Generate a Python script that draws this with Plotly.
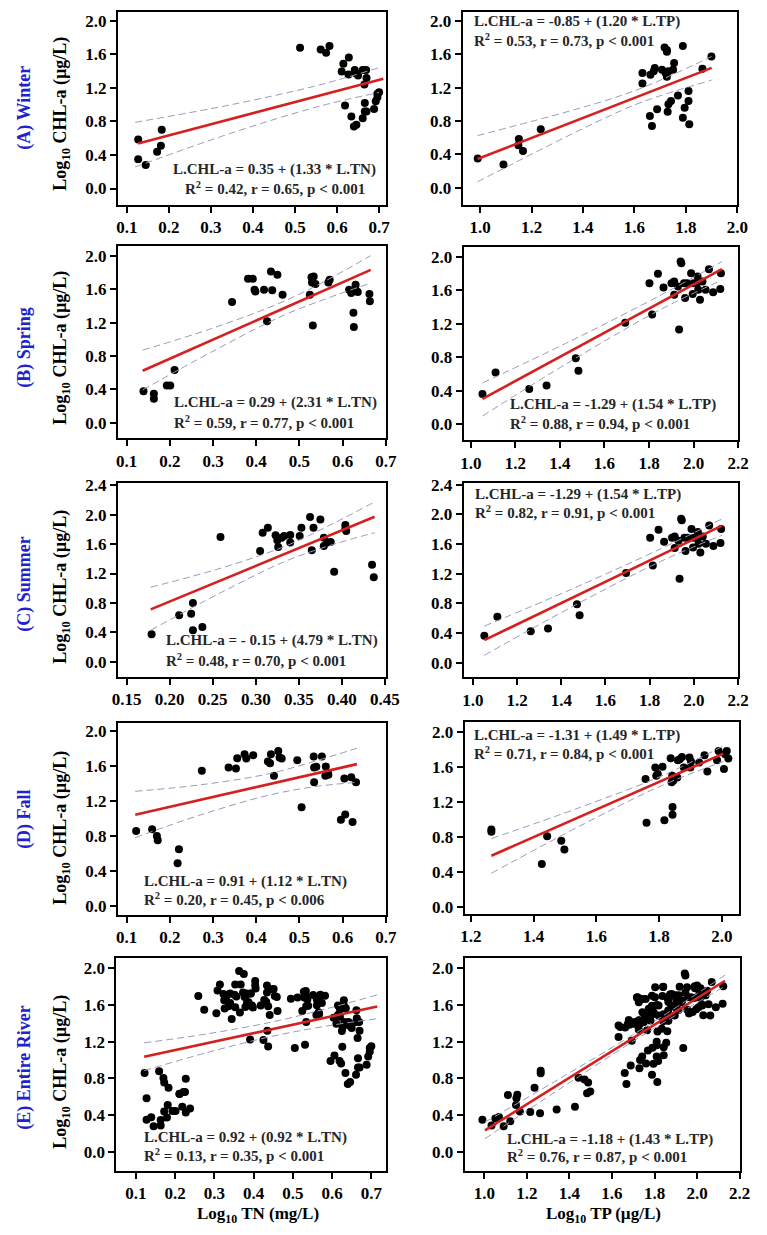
import plotly.graph_objects as go

W, H = 767, 1235

# ---------------- data ----------------
# (A) Winter
winter_tn_x = [0.127, 0.127, 0.145, 0.172, 0.181, 0.183, 0.512, 0.561, 0.574, 0.582, 0.611, 0.615, 0.628, 0.619,
               0.627, 0.634, 0.640, 0.646, 0.642, 0.644, 0.650, 0.661, 0.669, 0.661, 0.666, 0.666, 0.665, 0.670,
               0.670, 0.688, 0.692, 0.696, 0.700, 0.696]
winter_tn_y = [0.585, 0.35, 0.28, 0.44, 0.51, 0.70, 1.68, 1.66, 1.62, 1.70, 1.395, 1.49, 1.565, 0.99,
               1.36, 0.86, 0.74, 0.76, 1.415, 1.375, 1.35, 1.415, 1.415, 0.84, 0.92, 1.02, 1.24, 1.32,
               0.92, 0.95, 1.04, 1.09, 1.15, 1.13]
winter_tp_x = [0.991, 1.091, 1.151, 1.149, 1.167, 1.236, 1.631, 1.631, 1.66, 1.668, 1.662, 1.675, 1.679, 1.688,
               1.707, 1.717, 1.726, 1.726, 1.721, 1.726, 1.732, 1.729, 1.732, 1.742, 1.75, 1.754, 1.769, 1.788,
               1.788, 1.795, 1.81, 1.81, 1.813, 1.864, 1.899]
winter_tp_y = [0.35, 0.28, 0.585, 0.51, 0.44, 0.70, 1.375, 1.25, 0.86, 0.74, 1.355, 1.395, 1.435, 0.94,
               1.415, 1.68, 1.65, 1.63, 1.375, 1.33, 1.395, 0.91, 1.0, 1.04, 1.415, 1.495, 1.105, 1.70,
               0.84, 0.96, 1.16, 1.04, 0.76, 1.427, 1.573]

# (B) Spring
spring_tn_x = [0.139, 0.163, 0.163, 0.193, 0.201, 0.211, 0.344, 0.381, 0.392, 0.396, 0.398, 0.418, 0.425, 0.434,
               0.437, 0.449, 0.461, 0.524, 0.528, 0.529, 0.531, 0.533, 0.537, 0.567, 0.570, 0.615, 0.620, 0.625,
               0.626, 0.630, 0.630, 0.635, 0.662, 0.663]
spring_tn_y = [0.379, 0.348, 0.289, 0.447, 0.447, 0.632, 1.447, 1.723, 1.723, 1.593, 1.573, 1.593, 1.217, 1.81,
               1.585, 1.771, 1.534, 1.534, 1.743, 1.68, 1.166, 1.751, 1.66, 1.68, 1.711, 1.593, 1.553, 1.316,
               1.146, 1.652, 1.593, 1.565, 1.542, 1.455]
spring_tp_x = [1.052, 1.111, 1.262, 1.340, 1.471, 1.483, 1.693, 1.802, 1.814, 1.840, 1.865, 1.901, 1.913, 1.913,
               1.930, 1.935, 1.942, 1.945, 1.957, 1.962, 1.971, 1.989, 1.996, 2.0, 2.015, 2.018, 2.021, 2.029,
               2.040, 2.054, 2.069, 2.088, 2.120, 2.123]
spring_tp_y = [0.363, 0.619, 0.422, 0.462, 0.789, 0.639, 1.211, 1.684, 1.31, 1.795, 1.633, 1.684, 1.704, 1.546,
               1.645, 1.132, 1.941, 1.921, 1.684, 1.507, 1.684, 1.803, 1.554, 1.684, 1.684, 1.763, 1.606, 1.487,
               1.704, 1.606, 1.85, 1.574, 1.613, 1.803]

# (C) Summer (the TP panel of the reference repeats the spring points)
summer_tn_x = [0.179, 0.211, 0.225, 0.227, 0.227, 0.238, 0.259, 0.305, 0.308, 0.314, 0.323, 0.325, 0.326, 0.330,
               0.333, 0.340, 0.340, 0.353, 0.351, 0.363, 0.365, 0.367, 0.375, 0.379, 0.379, 0.383, 0.391, 0.387,
               0.404, 0.405, 0.404, 0.435, 0.437]
summer_tn_y = [0.374, 0.630, 0.653, 0.797, 0.428, 0.473, 1.697, 1.508, 1.756, 1.823, 1.720, 1.652, 1.562, 1.688,
               1.711, 1.724, 1.621, 1.823, 1.711, 1.968, 1.517, 1.823, 1.936, 1.688, 1.576, 1.621, 1.225, 1.630,
               1.859, 1.778, 1.814, 1.319, 1.148]
summer_tp_x = list(spring_tp_x)
summer_tp_y = list(spring_tp_y)
# extra summer TP points only visible in the Entire River panel
summer_tp_extra_x = [1.034, 1.069, 1.122, 1.155, 1.216, 1.79, 1.81, 1.855, 1.86, 1.72, 1.758, 1.803, 1.841, 1.88,
                     1.918, 1.953, 2.0, 1.864, 1.895, 1.925, 1.979, 2.024, 2.062, 2.047, 1.697, 1.727, 1.758,
                     1.788, 1.819, 1.639, 1.682, 1.727, 1.743, 1.724, 1.773, 1.781, 1.819, 1.865, 1.834,
                     1.765, 1.743]
summer_tp_extra_y = [0.288, 0.381, 0.335, 0.622, 0.435, 1.133, 1.198, 1.187, 1.313, 1.683, 1.665, 1.791, 1.799,
                     1.719, 1.799, 1.791, 1.81, 1.54, 1.486, 1.63, 1.522, 1.594, 1.486, 1.755, 1.396, 1.432,
                     1.486, 1.54, 1.594, 1.36, 1.385, 1.43, 1.665, 1.673, 1.557, 1.431, 1.485, 1.431, 1.342,
                     1.323, 1.52]

# (D) Fall
fall_tn_x = [0.122, 0.159, 0.170, 0.172, 0.218, 0.221, 0.274, 0.336, 0.353, 0.356, 0.373, 0.377, 0.393, 0.427,
             0.432, 0.434, 0.441, 0.451, 0.454, 0.459, 0.495, 0.505, 0.533, 0.534, 0.534, 0.539, 0.552, 0.560,
             0.561, 0.566, 0.567, 0.596, 0.606, 0.604, 0.620, 0.623, 0.631]
fall_tn_y = [0.860, 0.879, 0.804, 0.755, 0.491, 0.653, 1.547, 1.585, 1.574, 1.691, 1.736, 1.687, 1.725, 1.653,
             1.634, 1.736, 1.491, 1.774, 1.698, 1.687, 1.668, 1.132, 1.709, 1.585, 1.415, 1.592, 1.709, 1.491,
             1.596, 1.521, 1.502, 0.989, 1.049, 1.460, 1.472, 0.962, 1.415]
fall_tp_x = [1.265, 1.265, 1.426, 1.443, 1.488, 1.498, 1.757, 1.760, 1.788, 1.791, 1.796, 1.811, 1.817, 1.837,
             1.840, 1.842, 1.843, 1.843, 1.845, 1.858, 1.860, 1.866, 1.873, 1.879, 1.897, 1.902, 1.900, 1.928,
             1.945, 1.954, 1.985, 1.990, 2.007, 2.011, 2.016, 2.021]
fall_tp_y = [0.883, 0.857, 0.491, 0.808, 0.755, 0.657, 1.460, 0.962, 1.592, 1.498, 1.517, 1.600, 0.989, 1.698,
             1.423, 1.498, 1.140, 1.053, 1.442, 1.479, 1.675, 1.687, 1.713, 1.592, 1.706, 1.660, 1.592, 1.649,
             1.732, 1.547, 1.675, 1.781, 1.574, 1.743, 1.781, 1.694]

# (E) Entire river = all seasons together
entire_tn_x = winter_tn_x + spring_tn_x + summer_tn_x + fall_tn_x
entire_tn_y = winter_tn_y + spring_tn_y + summer_tn_y + fall_tn_y
entire_tp_x = winter_tp_x + spring_tp_x + fall_tp_x + summer_tp_extra_x
entire_tp_y = winter_tp_y + spring_tp_y + fall_tp_y + summer_tp_extra_y

# regression lines and 95% confidence bands
winter_tn_fit_x, winter_tn_fit_y = [0.127, 0.710], [0.538, 1.310]
winter_tn_band_x = [0.12, 0.35, 0.559, 0.70]
winter_tn_band_up = [0.79, 1.002, 1.237, 1.443]
winter_tn_band_lo = [0.257, 0.664, 0.983, 1.146]

winter_tp_fit_x, winter_tp_fit_y = [0.99, 1.90], [0.345, 1.437]
winter_tp_band_x = [0.99, 1.45, 1.63, 1.90]
winter_tp_band_up = [0.625, 1.01, 1.198, 1.573]
winter_tp_band_lo = [0.071, 0.784, 1.028, 1.29]

spring_tn_fit_x, spring_tn_fit_y = [0.137, 0.665], [0.624, 1.83]
spring_tn_band_x = [0.137, 0.30, 0.46, 0.56, 0.665]
spring_tn_band_up = [0.87, 1.134, 1.445, 1.698, 2.0]
spring_tn_band_lo = [0.395, 0.858, 1.279, 1.482, 1.672]

spring_tp_fit_x, spring_tp_fit_y = [1.052, 2.127], [0.304, 1.85]
spring_tp_band_x = [1.052, 1.45, 1.85, 2.127]
spring_tp_band_up = [0.493, 0.996, 1.537, 1.94]
spring_tp_band_lo = [0.099, 0.756, 1.367, 1.72]

summer_tn_fit_x, summer_tn_fit_y = [0.178, 0.438], [0.711, 1.972]
summer_tn_band_x = [0.178, 0.26, 0.334, 0.39, 0.438]
summer_tn_band_up = [1.013, 1.275, 1.571, 1.882, 2.175]
summer_tn_band_lo = [0.428, 0.943, 1.365, 1.596, 1.756]

fall_tn_fit_x, fall_tn_fit_y = [0.12, 0.633], [1.045, 1.623]
fall_tn_band_x = [0.12, 0.27, 0.431, 0.54, 0.633]
fall_tn_band_up = [1.313, 1.386, 1.515, 1.663, 1.804]
fall_tn_band_lo = [0.785, 1.042, 1.271, 1.369, 1.415]

fall_tp_fit_x, fall_tp_fit_y = [1.265, 2.005], [0.585, 1.75]
fall_tp_band_x = [1.265, 1.55, 1.806, 2.005]
fall_tp_band_up = [0.78, 1.139, 1.492, 1.838]
fall_tp_band_lo = [0.385, 0.929, 1.382, 1.66]

entire_tn_fit_x, entire_tn_fit_y = [0.121, 0.715], [1.036, 1.583]
entire_tn_band_x = [0.121, 0.28, 0.45, 0.60, 0.715]
entire_tn_band_up = [1.187, 1.284, 1.417, 1.574, 1.709]
entire_tn_band_lo = [0.885, 1.08, 1.261, 1.38, 1.45]

entire_tp_fit_x, entire_tp_fit_y = [1.003, 2.131], [0.234, 1.863]
entire_tp_band_x = [1.003, 1.35, 1.75, 2.131]
entire_tp_band_up = [0.324, 0.792, 1.349, 1.923]
entire_tp_band_lo = [0.144, 0.678, 1.277, 1.803]

# equation texts
eq_winter_tn = ["L.CHL-a = 0.35 + (1.33 * L.TN)", "R<sup>2</sup> = 0.42, r = 0.65, p &lt; 0.001"]
eq_winter_tp = ["L.CHL-a = -0.85 + (1.20 * L.TP)", "R<sup>2</sup> = 0.53, r = 0.73, p &lt; 0.001"]
eq_spring_tn = ["L.CHL-a = 0.29 + (2.31 * L.TN)", "R<sup>2</sup> = 0.59, r = 0.77, p &lt; 0.001"]
eq_spring_tp = ["L.CHL-a = -1.29 + (1.54 * L.TP)", "R<sup>2</sup> = 0.88, r = 0.94, p &lt; 0.001"]
eq_summer_tn = ["L.CHL-a = - 0.15 + (4.79 * L.TN)", "R<sup>2</sup> = 0.48, r = 0.70, p &lt; 0.001"]
eq_summer_tp = ["L.CHL-a = -1.29 + (1.54 * L.TP)", "R<sup>2</sup> = 0.82, r = 0.91, p &lt; 0.001"]
eq_fall_tn = ["L.CHL-a = 0.91 + (1.12 * L.TN)", "R<sup>2</sup> = 0.20, r = 0.45, p &lt; 0.006"]
eq_fall_tp = ["L.CHL-a = -1.31 + (1.49 * L.TP)", "R<sup>2</sup> = 0.71, r = 0.84, p &lt; 0.001"]
eq_entire_tn = ["L.CHL-a = 0.92 + (0.92 * L.TN)", "R<sup>2</sup> = 0.13, r = 0.35, p &lt; 0.001"]
eq_entire_tp = ["L.CHL-a = -1.18 + (1.43 * L.TP)", "R<sup>2</sup> = 0.76, r = 0.87, p &lt; 0.001"]

row_labels = ["(A) Winter", "(B) Spring", "(C) Summer", "(D) Fall", "(E) Entire River"]
y_title = "Log<sub>10</sub> CHL-a (µg/L)"
x_title_tn = "Log<sub>10</sub> TN (mg/L)"
x_title_tp = "Log<sub>10</sub> TP (µg/L)"

# ---------------- layout of the panels (pixel frames) ----------------
panels = [
    dict(x=winter_tn_x, y=winter_tn_y, fit=(winter_tn_fit_x, winter_tn_fit_y),
         band=(winter_tn_band_x, winter_tn_band_up, winter_tn_band_lo), eq=eq_winter_tn,
         frame=(115, 390, 5, 199.3), xr=(0.079, 0.716), yr=(-0.193, 2.107), xd=0.1, xf='.1f',
         eqpos=(276, 164, 182, 'center')),
    dict(x=winter_tp_x, y=winter_tp_y, fit=(winter_tp_fit_x, winter_tp_fit_y),
         band=(winter_tp_band_x, winter_tp_band_up, winter_tp_band_lo), eq=eq_winter_tp,
         frame=(469, 751, 5, 199.5), xr=(0.933, 2.0), yr=(-0.205, 2.107), xd=0.2, xf='.1f',
         eqpos=(478, 15, 33, 'left')),
    dict(x=spring_tn_x, y=spring_tn_y, fit=(spring_tn_fit_x, spring_tn_fit_y),
         band=(spring_tn_band_x, spring_tn_band_up, spring_tn_band_lo), eq=eq_spring_tn,
         frame=(115, 390, 241, 435), xr=(0.080, 0.70), yr=(-0.186, 2.115), xd=0.1, xf='.1f',
         eqpos=(170, 399, 418, 'left')),
    dict(x=spring_tp_x, y=spring_tp_y, fit=(spring_tp_fit_x, spring_tp_fit_y),
         band=(spring_tp_band_x, spring_tp_band_up, spring_tp_band_lo), eq=eq_spring_tp,
         frame=(470, 751.7, 242.3, 436.7), xr=(0.968, 2.2), yr=(-0.189, 2.111), xd=0.2, xf='.1f',
         eqpos=(515, 401, 419, 'left')),
    dict(x=summer_tn_x, y=summer_tn_y, fit=(summer_tn_fit_x, summer_tn_fit_y),
         band=(summer_tn_band_x, summer_tn_band_up, summer_tn_band_lo), eq=eq_summer_tn,
         frame=(115, 390, 480, 675), xr=(0.140, 0.451), yr=(-0.203, 2.431), xd=0.05, xf='.2f',
         eqpos=(162, 639, 658, 'left')),
    dict(x=summer_tp_x, y=summer_tp_y, fit=(spring_tp_fit_x, spring_tp_fit_y),
         band=(spring_tp_band_x, spring_tp_band_up, spring_tp_band_lo), eq=eq_summer_tp,
         frame=(470, 752, 480, 675.7), xr=(0.959, 2.201), yr=(-0.197, 2.423), xd=0.2, xf='.1f',
         eqpos=(479, 491, 509, 'left')),
    dict(x=fall_tn_x, y=fall_tn_y, fit=(fall_tn_fit_x, fall_tn_fit_y),
         band=(fall_tn_band_x, fall_tn_band_up, fall_tn_band_lo), eq=eq_fall_tn,
         frame=(115, 390, 721.7, 915), xr=(0.080, 0.70), yr=(-0.094, 2.094), xd=0.1, xf='.1f',
         eqpos=(140, 882, 899, 'left')),
    dict(x=fall_tp_x, y=fall_tp_y, fit=(fall_tp_fit_x, fall_tp_fit_y),
         band=(fall_tp_band_x, fall_tp_band_up, fall_tp_band_lo), eq=eq_fall_tp,
         frame=(471, 752.3, 720.7, 914), xr=(1.180, 2.054), yr=(-0.076, 2.113), xd=0.2, xf='.1f',
         eqpos=(478, 734, 752, 'left')),
    dict(x=entire_tn_x, y=entire_tn_y, fit=(entire_tn_fit_x, entire_tn_fit_y),
         band=(entire_tn_band_x, entire_tn_band_up, entire_tn_band_lo), eq=eq_entire_tn,
         frame=(113.3, 390, 959, 1173.3), xr=(0.050, 0.737), yr=(-0.205, 2.108), xd=0.1, xf='.1f',
         eqpos=(140, 1140, 1157, 'left')),
    dict(x=entire_tp_x, y=entire_tp_y, fit=(entire_tp_fit_x, entire_tp_fit_y),
         band=(entire_tp_band_x, entire_tp_band_up, entire_tp_band_lo), eq=eq_entire_tp,
         frame=(471, 753.3, 959, 1173.3), xr=(0.908, 2.2), yr=(-0.205, 2.108), xd=0.2, xf='.1f',
         eqpos=(512, 1142, 1158, 'left')),
]

RED = "#d61f1f"
BAND = "#9a9aba"
SERIF = "Liberation Serif"


def pxx(v):
    return v / W


def pxy(v):
    return 1 - v / H


fig = go.Figure()
layout = {}
annotations = []

for i, p in enumerate(panels, start=1):
    xa = 'x' if i == 1 else f'x{i}'
    ya = 'y' if i == 1 else f'y{i}'
    fig.add_trace(go.Scatter(x=p['x'], y=p['y'], mode='markers',
                             marker=dict(color='black', size=8, line=dict(width=0)),
                             xaxis=xa, yaxis=ya, hoverinfo='skip'))
    bx, bu, bl = p['band']
    for by in (bu, bl):
        fig.add_trace(go.Scatter(x=bx, y=by, mode='lines',
                                 line=dict(color=BAND, width=1, dash='7px,4px', shape='spline'),
                                 xaxis=xa, yaxis=ya, hoverinfo='skip'))
    fx, fy = p['fit']
    fig.add_trace(go.Scatter(x=fx, y=fy, mode='lines', line=dict(color=RED, width=2.6),
                             xaxis=xa, yaxis=ya, hoverinfo='skip'))

    l, r, t, b = p['frame']
    common = dict(showline=True, linecolor='black', linewidth=2, mirror=True,
                  ticks='outside', ticklen=6, tickwidth=1.5, tickcolor='black',
                  showgrid=False, zeroline=False,
                  tickfont=dict(family=SERIF, size=17, color='black', weight='bold'))
    xkey = 'xaxis' if i == 1 else f'xaxis{i}'
    ykey = 'yaxis' if i == 1 else f'yaxis{i}'
    layout[xkey] = dict(domain=[pxx(l), pxx(r)], range=list(p['xr']), anchor=ya,
                        tick0=0, dtick=p['xd'], tickformat=p['xf'], **common)
    layout[ykey] = dict(domain=[pxy(b), pxy(t)], range=list(p['yr']), anchor=xa,
                        tick0=0, dtick=0.4, tickformat='.1f', **common)

    ex, ey1, ey2, align = p['eqpos']
    for txt, ey in zip(p['eq'], (ey1, ey2)):
        annotations.append(dict(x=pxx(ex), y=pxy(ey), xref='paper', yref='paper', text=txt,
                                showarrow=False, xanchor=align, yanchor='middle',
                                font=dict(family=SERIF, size=15, color='#262626', weight='bold')))

# row labels and y titles
row_label_y = [102, 343, 582, 819, 1069]
y_title_y = [108, 344, 585, 828, 1074]
for lab, ly, ty in zip(row_labels, row_label_y, y_title_y):
    annotations.append(dict(x=pxx(19), y=pxy(ly), xref='paper', yref='paper', text=lab,
                            showarrow=False, textangle=-90, xanchor='center', yanchor='middle',
                            font=dict(family=SERIF, size=18, color='#2222cc', weight='bold')))
    annotations.append(dict(x=pxx(57), y=pxy(ty), xref='paper', yref='paper', text=y_title,
                            showarrow=False, textangle=-90, xanchor='center', yanchor='middle',
                            font=dict(family=SERIF, size=18, color='black', weight='bold')))

annotations.append(dict(x=pxx(259), y=pxy(1218), xref='paper', yref='paper', text=x_title_tn,
                        showarrow=False, xanchor='center', yanchor='middle',
                        font=dict(family=SERIF, size=17, color='black', weight='bold')))
annotations.append(dict(x=pxx(613), y=pxy(1218), xref='paper', yref='paper', text=x_title_tp,
                        showarrow=False, xanchor='center', yanchor='middle',
                        font=dict(family=SERIF, size=17, color='black', weight='bold')))

fig.update_layout(width=W, height=H, autosize=False, margin=dict(l=0, r=0, t=0, b=0, pad=0),
                  showlegend=False, plot_bgcolor='white', paper_bgcolor='white',
                  annotations=annotations, **layout)

fig.write_html("out.html", config={'displayModeBar': False},
               post_script="document.body.style.margin='0';document.body.style.overflow='hidden';")
